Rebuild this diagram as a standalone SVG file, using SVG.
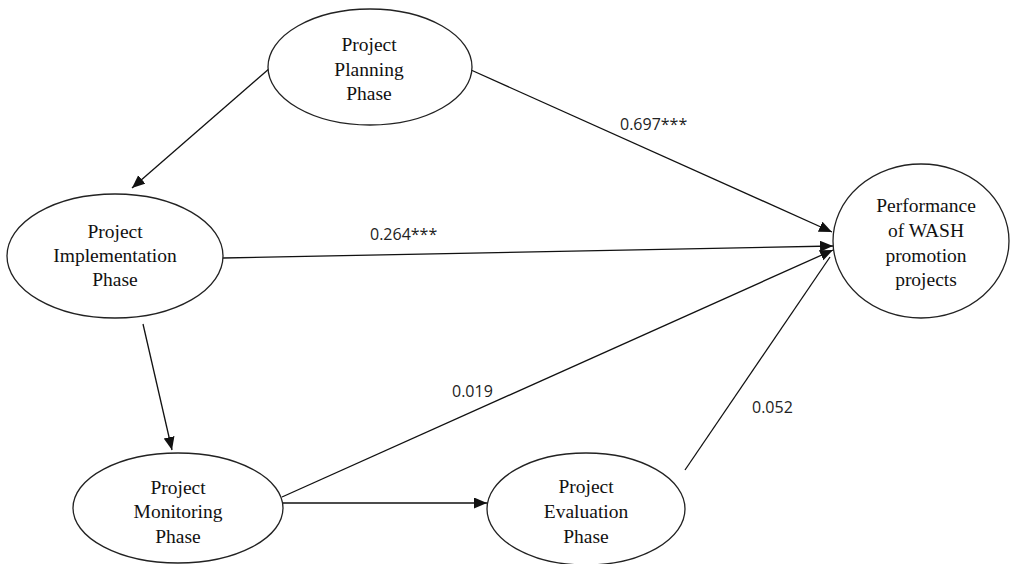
<svg xmlns="http://www.w3.org/2000/svg" width="1011" height="564" viewBox="0 0 1011 564">
<style>
.node{fill:#fff;stroke:#222;stroke-width:1.3}
.nt{font-family:"Liberation Serif","Times New Roman",serif;font-size:19.5px;fill:#111;text-anchor:middle}
.lbl{font-family:"Open Sans","Noto Sans",sans-serif;font-size:16px;fill:#222}
.con{stroke:#111;stroke-width:1.3;fill:none}
</style>
<defs>
<marker id="ah" markerUnits="userSpaceOnUse" markerWidth="14" markerHeight="12" refX="13" refY="5.5" orient="auto"><path d="M0,0 L13,5.5 L0,11 z" fill="#111"/></marker>
</defs>
<g id="connectors">
<line class="con" x1="270" y1="68" x2="132" y2="188" marker-end="url(#ah)"/>
<line class="con" x1="471" y1="70" x2="832" y2="232" marker-end="url(#ah)"/>
<line class="con" x1="223" y1="258" x2="833" y2="246" marker-end="url(#ah)"/>
<line class="con" x1="143" y1="324" x2="172" y2="450" marker-end="url(#ah)"/>
<line class="con" x1="282" y1="497" x2="833" y2="250" marker-end="url(#ah)"/>
<line class="con" x1="282" y1="503" x2="487" y2="503" marker-end="url(#ah)"/>
<line class="con" x1="685" y1="470" x2="830" y2="257"/>
<text class="lbl" x="620" y="130">0.697***</text>
<text class="lbl" x="370" y="240">0.264***</text>
<text class="lbl" x="452" y="397">0.019</text>
<text class="lbl" x="752" y="413">0.052</text>
</g>
<g id="planning">
<ellipse class="node" cx="370" cy="67" rx="102" ry="58"/>
<text class="nt" x="369" y="51">Project</text>
<text class="nt" x="369" y="76">Planning</text>
<text class="nt" x="369" y="100">Phase</text>
</g>
<g id="implementation">
<ellipse class="node" cx="115" cy="256" rx="108" ry="62"/>
<text class="nt" x="115" y="238">Project</text>
<text class="nt" x="115" y="262">Implementation</text>
<text class="nt" x="115" y="286">Phase</text>
</g>
<g id="performance">
<ellipse class="node" cx="921" cy="241" rx="88" ry="77"/>
<text class="nt" x="926" y="212">Performance</text>
<text class="nt" x="926" y="237">of WASH</text>
<text class="nt" x="926" y="262">promotion</text>
<text class="nt" x="926" y="286">projects</text>
</g>
<g id="monitoring">
<ellipse class="node" cx="178" cy="508" rx="105" ry="55"/>
<text class="nt" x="178" y="494">Project</text>
<text class="nt" x="178" y="518">Monitoring</text>
<text class="nt" x="178" y="543">Phase</text>
</g>
<g id="evaluation">
<ellipse class="node" cx="586" cy="509" rx="99" ry="56"/>
<text class="nt" x="586" y="493">Project</text>
<text class="nt" x="586" y="518">Evaluation</text>
<text class="nt" x="586" y="543">Phase</text>
</g>
</svg>
